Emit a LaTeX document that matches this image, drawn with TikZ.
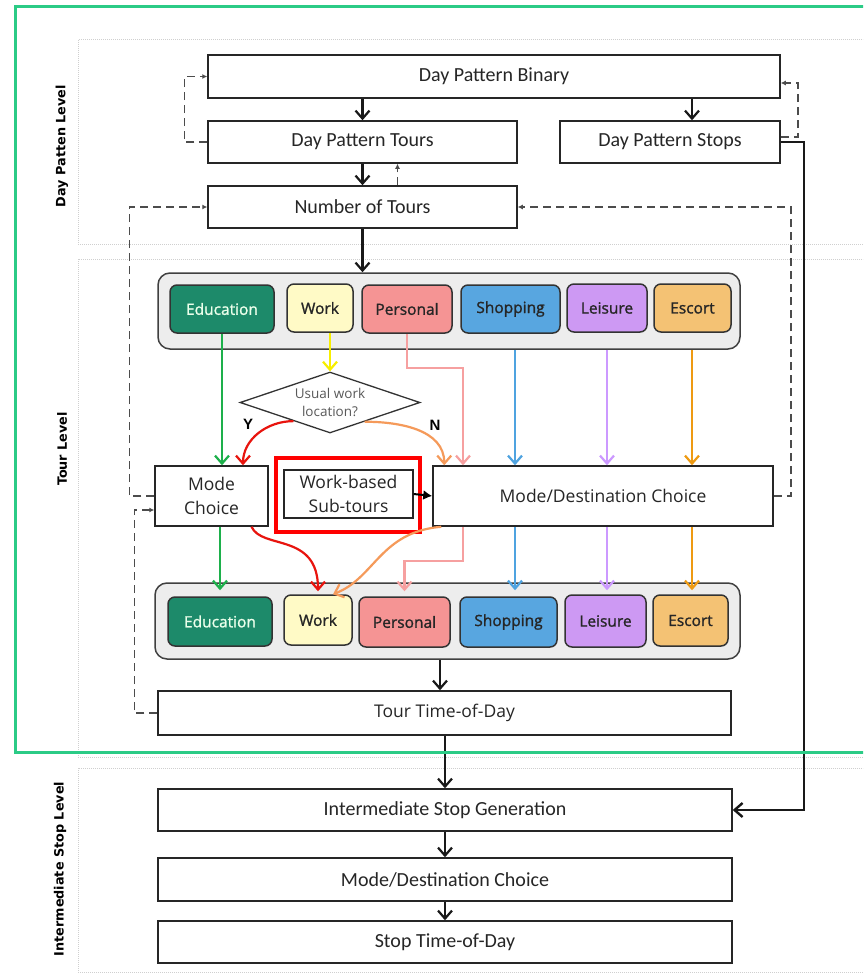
\documentclass[tikz,border=0pt]{standalone}
\usepackage{fontspec}
\setmainfont{Carlito}
\newfontfamily\osans{Open Sans}
\newfontfamily\osemi[FakeBold=1.3]{Open Sans}
\newfontfamily\dvsans{DejaVu Sans}
\newfontfamily\lsans{Liberation Sans}
\usetikzlibrary{arrows.meta,shapes.geometric,calc}

\definecolor{frameGreen}{HTML}{2BCB86}
\definecolor{bandGray}{HTML}{CFCFCF}
\definecolor{eduFill}{HTML}{1D8A6A}
\definecolor{workFill}{HTML}{FFFAC6}
\definecolor{persFill}{HTML}{F59494}
\definecolor{shopFill}{HTML}{58A6E0}
\definecolor{leisFill}{HTML}{CD99F3}
\definecolor{escFill}{HTML}{F4C274}
\definecolor{eduLine}{HTML}{1DB04B}
\definecolor{workLine}{HTML}{F7EE00}
\definecolor{persLine}{HTML}{F6A0A0}
\definecolor{shopLine}{HTML}{4FA3E0}
\definecolor{leisLine}{HTML}{CC99FF}
\definecolor{escLine}{HTML}{EE9A12}
\definecolor{noLine}{HTML}{F59A5A}
\definecolor{yesLine}{HTML}{E8140E}

\begin{document}
\begin{tikzpicture}[x=1pt,y=-1pt,
  box/.style={draw=black!85, line width=1.5pt, fill=white, inner sep=0pt,
    align=center, text=black!85},
  dpbox/.style={box, font=\fontsize{20}{22}\selectfont},
  tbox/.style={box, font=\osans\fontsize{17.5}{24}\selectfont},
  purp/.style={draw=black!80, line width=1.5pt, rounded corners=7pt,
    inner sep=0pt, text=black!85, font=\osemi\fontsize{15.5}{17}\selectfont},
  cont/.style={draw=black!75, line width=1.5pt, rounded corners=12pt, fill=black!7},
  band/.style={draw=bandGray, line width=1pt, densely dotted},
  lvl/.style={rotate=90, font=\dvsans\bfseries\fontsize{12.8}{14}\selectfont},
  arr/.style={-{Straight Barb[length=8pt,width=14pt]}, line width=2.2pt, black!90},
  carr/.style={-{Straight Barb[length=8pt,width=14pt]}, line width=2.2pt},
  dasharr/.style={-{Latex[length=5pt,width=5pt]}, dash pattern=on 8pt off 5pt,
    line width=1.5pt, black!70},
  yn/.style={font=\lsans\bfseries\fontsize{15}{16}\selectfont}]

\clip (0,0) rectangle (863,974);
\useasboundingbox (0,0) rectangle (863,974);
\fill[white] (0,0) rectangle (863,974);

% level bands
\draw[band] (78,40) rectangle (880,244);
\draw[band] (78,259) rectangle (880,757);
\draw[band] (78,768) rectangle (880,972);
\node[lvl] at (62,146) {Day Patten Level};
\node[lvl] at (62,449) {Tour Level};
\node[lvl] at (60,869) {Intermediate Stop Level};

% day pattern level
\node[dpbox, minimum width=572pt, minimum height=43pt] (bin) at (494,76.5) {Day Pattern Binary};
\node[dpbox, minimum width=309pt, minimum height=42pt] (tours) at (362.5,142) {Day Pattern Tours};
\node[dpbox, minimum width=220pt, minimum height=42pt] (stops) at (670,142) {Day Pattern Stops};
\node[dpbox, minimum width=309pt, minimum height=42pt] (ntours) at (362.5,207) {Number of Tours};

% tour purposes (upper row)
\node[cont, minimum width=582pt, minimum height=76pt] (topc) at (449,311) {};
\node[purp, fill=eduFill, text=white!92!green, minimum width=104pt, minimum height=48pt] (edu1) at (222,309) {Education};
\node[purp, fill=workFill, minimum width=66pt, minimum height=48pt] (work1) at (320,308) {Work};
\node[purp, fill=persFill, minimum width=90pt, minimum height=48pt] (pers1) at (407,309) {Personal};
\node[purp, fill=shopFill, minimum width=99pt, minimum height=48pt] (shop1) at (510.5,309) {Shopping};
\node[purp, fill=leisFill, minimum width=80pt, minimum height=48pt] (leis1) at (607,308) {Leisure};
\node[purp, fill=escFill, minimum width=77pt, minimum height=48pt] (esc1) at (692.5,308) {Escort};

% work location decision
\node[draw=black!80, line width=1.3pt, diamond, aspect=3, minimum width=180pt,
  minimum height=61pt, inner sep=0pt, align=center, text=black!65,
  font=\osans\fontsize{13.5}{18}\selectfont] (dia) at (330,402.5) {Usual work\\location?};

% choice models
\node[tbox, minimum width=113pt, minimum height=60pt] (mc) at (211.5,496) {Mode\\Choice};
\node[draw=red, line width=3.5pt, minimum width=144pt, minimum height=74pt] (hl) at (348,495) {};
\node[tbox, line width=1.3pt, minimum width=129pt, minimum height=48pt] (wbs) at (348.5,494) {Work-based\\Sub-tours};
\node[tbox, minimum width=340pt, minimum height=60pt] (mdc) at (603,496) {Mode/Destination Choice};

% tour purposes (lower row)
\node[cont, minimum width=585pt, minimum height=76pt] (botc) at (447.5,621) {};
\node[purp, fill=eduFill, text=white!92!green, minimum width=104pt, minimum height=49pt] (edu2) at (220,621.5) {Education};
\node[purp, fill=workFill, minimum width=68pt, minimum height=50pt] (work2) at (318,620) {Work};
\node[purp, fill=persFill, minimum width=91pt, minimum height=50pt] (pers2) at (404.5,622) {Personal};
\node[purp, fill=shopFill, minimum width=97pt, minimum height=50pt] (shop2) at (508.5,622) {Shopping};
\node[purp, fill=leisFill, minimum width=81pt, minimum height=52pt] (leis2) at (605.5,621) {Leisure};
\node[purp, fill=escFill, minimum width=75pt, minimum height=51pt] (esc2) at (690.5,620.5) {Escort};

\node[tbox, minimum width=573pt, minimum height=44pt] (ttod) at (444.5,713) {Tour Time-of-Day};

% intermediate stop level
\node[dpbox, minimum width=574pt, minimum height=42pt] (isg) at (445,810) {Intermediate Stop Generation};
\node[dpbox, minimum width=574pt, minimum height=43pt] (mdc2) at (445,879.5) {Mode/Destination Choice};
\node[dpbox, minimum width=574pt, minimum height=42pt] (std) at (445,942) {Stop Time-of-Day};

% x positions of the vertical purpose connectors
\coordinate (xwork) at (330,0);
\coordinate (xpers) at (463,0);
\coordinate (xshop) at (515,0);
\coordinate (xleis) at (607,0);
\coordinate (xesc) at (692,0);
\coordinate (xtod) at (440,0);

% solid flow
\draw[arr] (bin.south -| tours) -- (tours.north);
\draw[arr] (bin.south -| xesc) -- (stops.north -| xesc);
\draw[arr] (tours.south) -- (ntours.north);
\draw[arr] (ntours.south) -- (topc.north -| ntours);
\draw[arr] (botc.south -| xtod) -- (ttod.north -| xtod);
\draw[arr] (ttod.south -| isg) -- (isg.north);
\draw[arr] (isg.south) -- (mdc2.north);
\draw[arr] (mdc2.south) -- (std.north);
\draw[arr, line width=2.4pt] (stops.east) -- ++(23,0) |- (isg.east);
\draw[-{Latex[length=9pt,width=10pt]}, line width=2pt] (wbs.east) -- (mdc.west);

% feedback loops
\draw[dasharr] ([xshift=35pt]ntours.north) -- ([xshift=35pt]tours.south);
\draw[dasharr] (tours.west) -- ++(-23,0) |- (bin.west);
\draw[dasharr] ([yshift=5pt]stops.east) -- ++(17,0) |- ([yshift=-6.5pt]bin.east);
\draw[dasharr] (mdc.east) -- ++(17,0) |- (ntours.east);
\draw[dasharr] (mc.west) -- ++(-25,0) |- (ntours.west);
\draw[dasharr] (ttod.west) -- ++(-23,0) |- ([yshift=-14pt]mc.west);

% purposes into the choice models
\draw[carr, eduLine] (edu1.south) -- (mc.north -| edu1);
\draw[carr, workLine] (work1.south -| xwork) -- (dia.north);
\draw[carr, persLine] (pers1.south) -- ++(0,34) -| (mdc.north -| xpers);
\draw[carr, shopLine] (topc.south -| xshop) -- (mdc.north -| xshop);
\draw[carr, leisLine] (topc.south -| xleis) -- (mdc.north -| xleis);
\draw[carr, escLine] (topc.south -| xesc) -- (mdc.north -| xesc);
\draw[carr, yesLine] (dia.207) to[out=180,in=90] ([xshift=31.5pt]mc.north);
\draw[carr, noLine] (dia.331) to[out=0,in=90] ([xshift=12pt]mdc.north west);
\node[yn] (ylab) at (248,424) {Y};
\node[yn] (nlab) at (435,425) {N};

% choice models into the lower purposes
\draw[carr, eduLine, shorten >=-8pt] (mc.south -| edu2) -- (botc.north -| edu2);
\draw[carr, yesLine] ([xshift=40pt]mc.south) .. controls (262,550) and (318,532) .. ([yshift=3pt]work2.north);
\draw[carr, noLine] ([xshift=9pt]mdc.south west) .. controls (380,532) and (375,578) .. ([xshift=15pt]work2.north);
\draw[carr, persLine] (mdc.south -| xpers) -- ++(0,34) -| ([yshift=5pt]pers2.north);
\draw[carr, shopLine, shorten >=-8pt] (mdc.south -| xshop) -- (botc.north -| xshop);
\draw[carr, leisLine, shorten >=-8pt] (mdc.south -| xleis) -- (botc.north -| xleis);
\draw[carr, escLine, shorten >=-8pt] (mdc.south -| xesc) -- (botc.north -| xesc);

% tour-level frame
\draw[frameGreen, line width=3pt] (15,7) rectangle (880,752);
\end{tikzpicture}
\end{document}
